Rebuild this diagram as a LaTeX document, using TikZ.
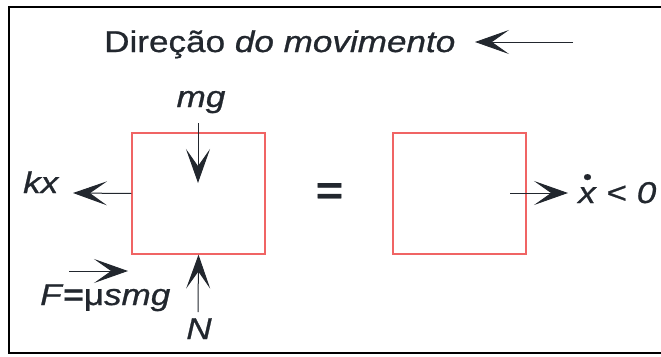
\documentclass[tikz,border=0pt]{standalone}
\usepackage{fontspec}
\setmainfont{Liberation Sans}[FakeStretch=1.17, FakeBold=0.8]
\usepackage{tikz}
\usetikzlibrary{arrows.meta,positioning}
\usepackage{xcolor}
\definecolor{ink}{HTML}{22272E}
\definecolor{edge}{HTML}{F06464}
\newcommand{\labelsize}{\fontsize{30}{34}\selectfont}
\newcommand{\xdot}{\ooalign{\textit{x}\cr\hidewidth\raisebox{0.62em}{\fontsize{22}{22}\selectfont\textbullet}\hidewidth}}
\tikzset{
  block/.style={draw=edge, line width=1.2pt, minimum width=133pt, minimum height=121pt,
                inner sep=0pt},
  lbl/.style={font=\labelsize, text=ink, inner sep=0pt, anchor=base},
  arr/.style={-{Stealth[length=34pt, width=24pt, inset=17pt]}, line width=1pt, draw=ink},
  frame/.style={line width=2pt, draw=black}
}

\begin{document}
\begin{tikzpicture}[x=1pt,y=-1pt]
  \useasboundingbox (0,0) rectangle (661,356);
  \draw[frame] (664,7) -- (9,7) -- (9,353) -- (664,353);

  % blocks
  \node[block] (lbox) at (198.5,193.5) {};
  \node[block] (rbox) at (459.5,193.5) {};
  \node[lbl, font=\fontsize{40}{44}\selectfont\bfseries] (eq) at (329.5,204) {=};

  % labels
  \node[lbl, anchor=base west] (dir) at (104,52) {Direção \textit{do movimento}};
  \node[lbl] (mg) at (201,107) {\textit{mg}};
  \node[lbl, anchor=base west] (kx) at (23,193) {\textit{kx}};
  \node[lbl, anchor=base west] (fr) at (40,305) {\textit{F}\textbf{=}μ\textit{smg}};
  \node[lbl] (n) at (199,339) {\textit{N}};
  \node[lbl, anchor=base west] (vel) at (578,203) {\xdot{} < \textit{0}};

  % arrows
  \coordinate (dirA) at (573,42);
  \coordinate (dirB) at (475,42);
  \coordinate (mgA) at (198,123);
  \coordinate (mgB) at (198,183);
  \coordinate (kxB) at (73,193);
  \coordinate (nA) at (198,312);
  \coordinate (fA) at (69,271);
  \coordinate (fB) at (128,271);
  \coordinate (vA) at (510,193);
  \coordinate (vB) at (568,193);
  \draw[arr] (dirA) -- (dirB);
  \draw[arr] (mgA) -- (mgB);
  \draw[arr] (lbox.west) -- (kxB);
  \draw[arr] (nA) -- (lbox.south);
  \draw[arr] (fA) -- (fB);
  \draw[arr] (vA) -- (vB);
\end{tikzpicture}
\end{document}
